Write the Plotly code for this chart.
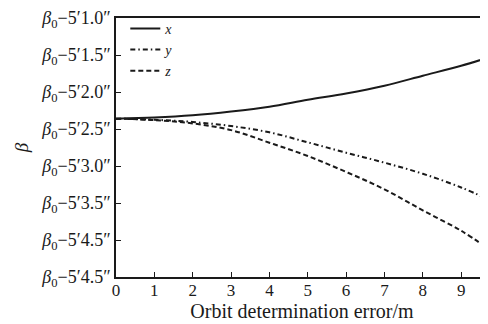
import plotly.graph_objects as go

# Data
x_vals = [0, 1, 2, 3, 4, 5, 6, 7, 8, 9, 9.7]
x_series = [4.28, 4.31, 4.37, 4.47, 4.60, 4.79, 4.96, 5.17, 5.44, 5.71, 5.93]
y_series = [4.28, 4.25, 4.19, 4.08, 3.91, 3.64, 3.36, 3.09, 2.79, 2.42, 2.10]
z_series = [4.28, 4.24, 4.15, 3.97, 3.63, 3.27, 2.84, 2.37, 1.80, 1.25, 0.77]

y_tickvals = [0, 1, 2, 3, 4, 5, 6, 7]
y_ticksecs = ["4.5", "4.5", "3.5", "3.0", "2.5", "2.0", "1.5", "1.0"]
y_ticktext = ["<i>β</i><sub>0</sub>−5′" + s + "″" for s in y_ticksecs]
x_tickvals = [0, 1, 2, 3, 4, 5, 6, 7, 8, 9]

FONT = "Liberation Serif"
INK = "#1a1a1a"

fig = go.Figure()
fig.add_trace(go.Scatter(x=x_vals, y=x_series, mode="lines", name="<i>x</i>",
                         line=dict(color=INK, width=2, dash="solid", shape="spline")))
fig.add_trace(go.Scatter(x=x_vals, y=y_series, mode="lines", name="<i>y</i>",
                         line=dict(color=INK, width=2, dash="5px,3px,1.5px,3px", shape="spline")))
fig.add_trace(go.Scatter(x=x_vals, y=z_series, mode="lines", name="<i>z</i>",
                         line=dict(color=INK, width=2, dash="5px,3px", shape="spline")))

fig.update_layout(
    width=480, height=316,
    margin=dict(l=108, r=0, t=6, b=47),
    paper_bgcolor="white", plot_bgcolor="white",
    font=dict(family=FONT, size=16, color=INK),
    showlegend=True,
    legend=dict(x=0.025, y=1.02, xanchor="left", yanchor="top",
                bgcolor="rgba(0,0,0,0)", borderwidth=0,
                font=dict(family=FONT, size=14, color=INK),
                tracegroupgap=0),
    xaxis=dict(range=[0, 9.7], tickvals=x_tickvals, ticks="inside", ticklen=5,
               tickwidth=1.2, tickcolor=INK, showline=True, linecolor=INK,
               linewidth=1.5, mirror=True, showgrid=False, zeroline=False,
               ticklabeloverflow="allow", ticklabelstandoff=-3,
               tickfont=dict(family=FONT, size=17, color=INK),
               title=dict(text="Orbit determination error/m", standoff=0,
                          font=dict(family=FONT, size=20, color=INK))),
    yaxis=dict(range=[0, 7], tickvals=y_tickvals, ticktext=y_ticktext,
               ticks="inside", ticklen=5, tickwidth=1.2, tickcolor=INK,
               showline=True, linecolor=INK, linewidth=1.5, mirror=False,
               showgrid=False, zeroline=False, ticklabeloverflow="allow",
               tickfont=dict(family=FONT, size=18, color=INK),
               title=dict(text="<i>β</i>", standoff=8,
                          font=dict(family=FONT, size=19, color=INK))),
)

fig.write_html("out.html")
